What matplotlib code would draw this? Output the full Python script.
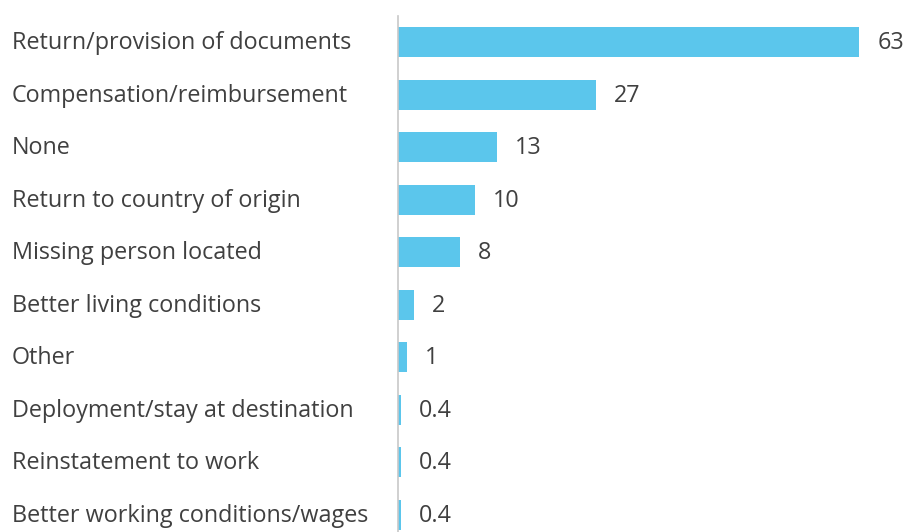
import matplotlib
matplotlib.use("Agg")
import matplotlib.pyplot as plt

categories = [
    "Return/provision of documents",
    "Compensation/reimbursement",
    "None",
    "Return to country of origin",
    "Missing person located",
    "Better living conditions",
    "Other",
    "Deployment/stay at destination",
    "Reinstatement to work",
    "Better working conditions/wages",
]
values = [63, 27, 13.5, 10.5, 8.5, 2.2, 1.2, 0.4, 0.4, 0.4]
value_labels = ["63", "27", "13", "10", "8", "2", "1", "0.4", "0.4", "0.4"]

W, H = 922, 532
fig = plt.figure(figsize=(W / 100, H / 100), dpi=100)
plt.rcParams['font.family'] = ['Open Sans', 'DejaVu Sans']

top_px, bot_px = 15.7, 532
left_px = 398
px_per_unit = 7.32
xmax = (W - left_px) / px_per_unit
ax = fig.add_axes([left_px / W, 1 - bot_px / H, (W - left_px) / W, (bot_px - top_px) / H])

bar_color = "#5BC6EC"
text_color = "#404040"
y = list(range(len(categories)))
ax.barh(y, values, height=0.57, color=bar_color)
ax.set_xlim(0, xmax)
ax.set_ylim(9 + (532 - 515) / 52.55, -0.5)

for yi, v, lab in zip(y, values, value_labels):
    ax.annotate(lab, xy=(v, yi), xytext=(18, -1), textcoords="offset pixels",
                va="center", ha="left", fontsize=16.8, color=text_color)

ax.set_yticks(y)
ax.set_yticklabels([])
for yi, c in zip(y, categories):
    ax.annotate(c, xy=(0, yi), xycoords=("figure pixels", "data"), xytext=(12, -1),
                textcoords="offset pixels", va="center", ha="left", fontsize=16.8, color=text_color)

ax.tick_params(left=False, bottom=False, labelbottom=False)
for s in ["top", "right", "bottom"]:
    ax.spines[s].set_visible(False)
ax.spines["left"].set_color("#C8C8C8")
ax.spines["left"].set_linewidth(1.2)

fig.savefig("out.png", dpi=100)
